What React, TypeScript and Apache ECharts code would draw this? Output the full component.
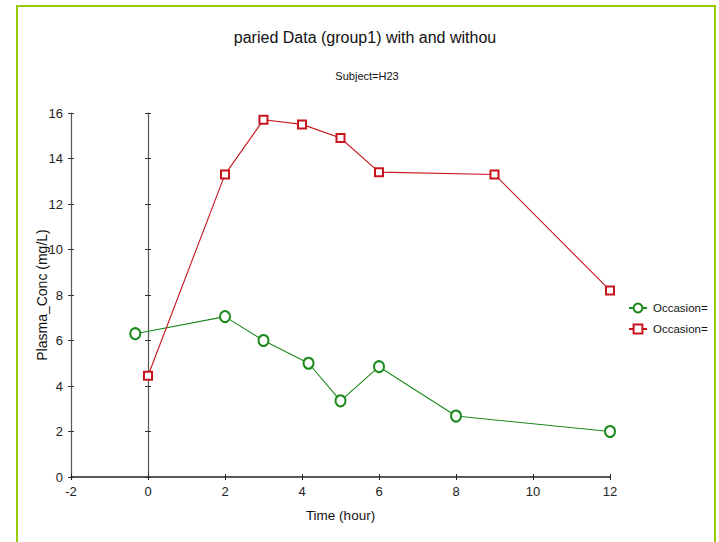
import React, { useEffect, useRef } from "react";
import * as echarts from "echarts";

const titleText = "paried Data (group1) with and withou";
const subtitleText = "Subject=H23";
const xAxisName = "Time (hour)";
const yAxisName = "Plasma_Conc (mg/L)";

const occ1Name = "Occasion=";
const occ1Time = [-0.33, 2, 3, 4.17, 5, 6, 8, 12];
const occ1Conc = [6.3, 7.05, 6.0, 5.0, 3.35, 4.85, 2.68, 2.0];

const occ2Name = "Occasion= ";
const occ2Time = [0, 2, 3, 4, 5, 6, 9, 12];
const occ2Conc = [4.45, 13.3, 15.7, 15.5, 14.9, 13.4, 13.3, 8.2];

const FONT = "'Liberation Sans', Arial, sans-serif";

export default function App() {
  const ref = useRef<HTMLDivElement>(null);
  useEffect(() => {
    if (!ref.current) return;
    const chart = echarts.init(ref.current, null, { renderer: "svg" });
    const green = "#1a8a1a";
    const red = "#c8141e";
    const baseX = {
      type: "value" as const,
      min: -2,
      max: 12,
      interval: 2,
      position: "bottom" as const,
      splitLine: { show: false },
    };
    const baseY = {
      type: "value" as const,
      min: 0,
      max: 16,
      interval: 2,
      position: "left" as const,
      splitLine: { show: false },
    };
    chart.setOption({
      animation: false,
      backgroundColor: "#ffffff",
      textStyle: { fontFamily: FONT },
      graphic: [
        {
          type: "rect",
          shape: { x: 17, y: 6, width: 698, height: 560 },
          style: { fill: "none", stroke: "#99cc00", lineWidth: 2 },
          silent: true,
        },
        {
          type: "text",
          x: 365,
          y: 37,
          style: {
            text: titleText,
            fontSize: 16,
            fontFamily: FONT,
            fill: "#111",
            textAlign: "center",
            textVerticalAlign: "middle",
          },
        },
        {
          type: "text",
          x: 367,
          y: 76,
          style: {
            text: subtitleText,
            fontSize: 11,
            fontFamily: FONT,
            fill: "#111",
            textAlign: "center",
            textVerticalAlign: "middle",
          },
        },
      ],
      legend: {
        orient: "vertical",
        left: 623,
        top: 297,
        itemWidth: 18,
        itemHeight: 11,
        itemGap: 9,
        textStyle: { fontSize: 11.5, color: "#111", fontFamily: FONT, padding: [0, 0, 0, 1] },
        data: [occ1Name, occ2Name],
        formatter: (n: string) => n.trim(),
      },
      grid: { left: 71, right: 109, top: 113, bottom: 65, containLabel: false },
      xAxis: [
        {
          ...baseX,
          name: xAxisName,
          nameLocation: "middle",
          nameGap: 31,
          nameMoveOverlap: false,
          nameTextStyle: { fontSize: 13.5, color: "#111", fontFamily: FONT },
          axisLine: { onZero: false, lineStyle: { color: "#222", width: 1.5 } },
          axisTick: { show: true, inside: false, length: 3, lineStyle: { color: "#222" } },
          axisLabel: { fontSize: 13, color: "#222", margin: 8, fontFamily: FONT },
        },
        {
          ...baseX,
          axisLine: { show: false, onZero: false },
          axisTick: { show: true, inside: true, length: 3, lineStyle: { color: "#222" } },
          axisLabel: { show: false },
        },
      ],
      yAxis: [
        {
          ...baseY,
          name: yAxisName,
          nameLocation: "middle",
          nameGap: 22,
          nameMoveOverlap: false,
          nameTextStyle: { fontSize: 14, color: "#111", fontFamily: FONT },
          axisLine: { show: true, onZero: false, lineStyle: { color: "#555", width: 1.2 } },
          axisTick: { show: true, inside: false, length: 3, lineStyle: { color: "#333" } },
          axisLabel: { fontSize: 13, color: "#222", margin: 8, fontFamily: FONT },
        },
        {
          ...baseY,
          axisLine: { show: false, onZero: false },
          axisTick: { show: true, inside: true, length: 3, lineStyle: { color: "#333" } },
          axisLabel: { show: false },
        },
        {
          ...baseY,
          axisLine: { show: true, onZero: true, onZeroAxisIndex: 0, lineStyle: { color: "#555", width: 1.2 } },
          axisTick: { show: true, inside: false, length: 3, lineStyle: { color: "#333" } },
          axisLabel: { show: false },
        },
        {
          ...baseY,
          axisLine: { show: false, onZero: true, onZeroAxisIndex: 0 },
          axisTick: { show: true, inside: true, length: 3, lineStyle: { color: "#333" } },
          axisLabel: { show: false },
        },
      ],
      series: [
        {
          name: occ1Name,
          type: "line",
          xAxisIndex: 0,
          yAxisIndex: 0,
          data: occ1Time.map((t, i) => [t, occ1Conc[i]]),
          symbol: "emptyCircle",
          symbolSize: [10, 11],
          showAllSymbol: true,
          lineStyle: { color: green, width: 1.1 },
          itemStyle: { color: green, borderColor: green, borderWidth: 1 },
          z: 5,
        },
        {
          name: occ2Name,
          type: "line",
          xAxisIndex: 0,
          yAxisIndex: 0,
          data: occ2Time.map((t, i) => [t, occ2Conc[i]]),
          symbol: "emptyRect",
          symbolSize: 8,
          showAllSymbol: true,
          lineStyle: { color: red, width: 1.1 },
          itemStyle: { color: red, borderColor: red, borderWidth: 1 },
          z: 5,
        },
      ],
    });
    return () => chart.dispose();
  }, []);
  return (
    <div
      ref={ref}
      style={{ position: "fixed", left: 0, top: 0, width: 719, height: 542, overflow: "hidden" }}
    />
  );
}
